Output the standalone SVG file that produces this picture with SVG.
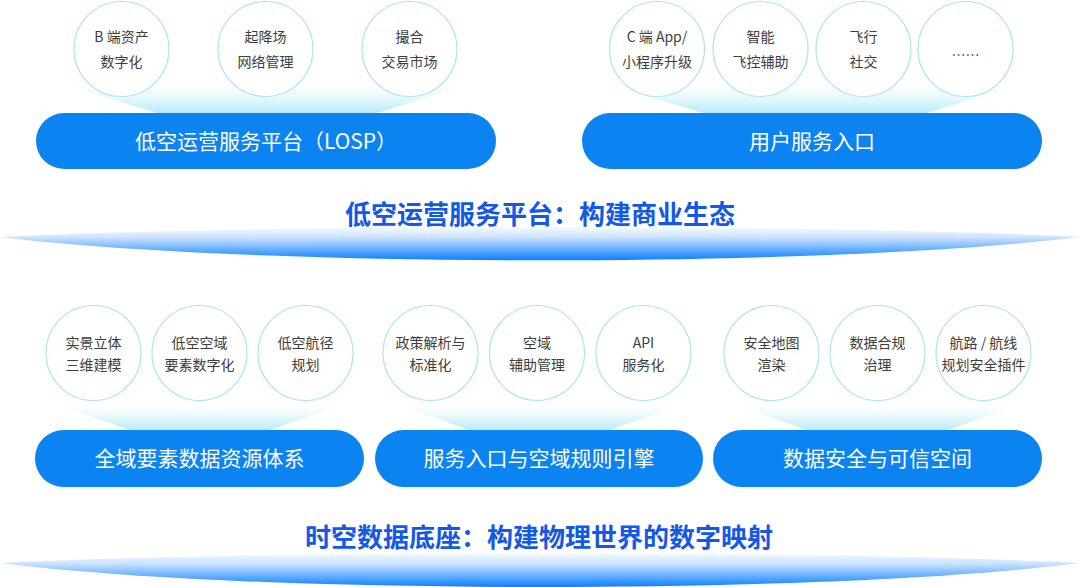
<svg xmlns="http://www.w3.org/2000/svg" width="1080" height="587" viewBox="0 0 1080 587">
<defs>
<linearGradient id="glow" x1="0" y1="0" x2="0" y2="1">
<stop offset="0" stop-color="#d9f5fc" stop-opacity="0"/>
<stop offset="1" stop-color="#b6ebfa" stop-opacity="1"/>
</linearGradient>
<linearGradient id="disc" x1="0" y1="0" x2="0" y2="1">
<stop offset="0" stop-color="#f4f9ff"/>
<stop offset="0.3" stop-color="#cde4ff"/>
<stop offset="1" stop-color="#0b80ff"/>
</linearGradient>
<style>
.c{fill:#fff;stroke:#a9e4f4;stroke-width:1.2}
.ct{font-family:"Noto Sans CJK SC","Noto Sans",sans-serif;font-size:14px;fill:#3d3d3d;text-anchor:middle}
.p{fill:#0b84f2}
.pt{font-family:"Noto Sans CJK SC","Noto Sans",sans-serif;font-size:21px;fill:#fff;text-anchor:middle}
.t{font-family:"Noto Sans CJK SC","Noto Sans",sans-serif;font-size:26px;font-weight:bold;fill:#1358e8;text-anchor:middle}
.g{fill:url(#glow)}
.d{fill:url(#disc)}
</style>
</defs>
<rect width="1080" height="587" fill="#fff"/>

<g id="discs">
<path class="d" d="M0,237 C250,224 830,224 1080,237 C830,268 250,268 0,237 Z"/>
<path class="d" d="M0,563 C250,550 830,550 1080,563 C830,595 250,595 0,563 Z"/>
</g>

<g id="connectors">
<polygon class="g" points="65,85 467,85 377,113 157,113"/>
<polygon class="g" points="607,85 1017,85 927,113 703,113"/>
<polygon class="g" points="57,405 341,405 270,430 130,430"/>
<polygon class="g" points="400,405 682,405 609,430 469,430"/>
<polygon class="g" points="736,405 1020,405 947,430 807,430"/>
</g>

<g id="c-b-asset"><circle class="c" cx="121.5" cy="49" r="47.5"/><text class="ct" x="121.5" y="42">B 端资产</text><text class="ct" x="121.5" y="67">数字化</text></g>
<g id="c-airport"><circle class="c" cx="265.5" cy="49" r="47.5"/><text class="ct" x="265.5" y="42">起降场</text><text class="ct" x="265.5" y="67">网络管理</text></g>
<g id="c-match"><circle class="c" cx="409.5" cy="49" r="47.5"/><text class="ct" x="409.5" y="42">撮合</text><text class="ct" x="409.5" y="67">交易市场</text></g>
<g id="c-capp"><circle class="c" cx="657" cy="49" r="47.5"/><text class="ct" x="657" y="42">C 端 App/</text><text class="ct" x="657" y="67">小程序升级</text></g>
<g id="c-smart"><circle class="c" cx="760.5" cy="49" r="47.5"/><text class="ct" x="760.5" y="42">智能</text><text class="ct" x="760.5" y="67">飞控辅助</text></g>
<g id="c-social"><circle class="c" cx="863.5" cy="49" r="47.5"/><text class="ct" x="863.5" y="42">飞行</text><text class="ct" x="863.5" y="67">社交</text></g>
<g id="c-more"><circle class="c" cx="965.5" cy="49" r="47.5"/><text class="ct" x="965.5" y="60">……</text></g>

<g id="p-losp"><rect class="p" x="36" y="113" width="460" height="56" rx="28"/><text class="pt" x="266" y="148.5">低空运营服务平台（LOSP）</text></g>
<g id="p-user"><rect class="p" x="582" y="113" width="460" height="56" rx="28"/><text class="pt" x="812" y="148.5">用户服务入口</text></g>

<g id="title-1"><text class="t" x="540" y="223.5">低空运营服务平台：构建商业生态</text></g>

<g id="c-3d"><circle class="c" cx="93.5" cy="353" r="47.5"/><text class="ct" x="93.5" y="348">实景立体</text><text class="ct" x="93.5" y="370">三维建模</text></g>
<g id="c-airspace"><circle class="c" cx="199.5" cy="353" r="47.5"/><text class="ct" x="199.5" y="348">低空空域</text><text class="ct" x="199.5" y="370">要素数字化</text></g>
<g id="c-route"><circle class="c" cx="305.5" cy="353" r="47.5"/><text class="ct" x="305.5" y="348">低空航径</text><text class="ct" x="305.5" y="370">规划</text></g>
<g id="c-policy"><circle class="c" cx="430.5" cy="353" r="47.5"/><text class="ct" x="430.5" y="348">政策解析与</text><text class="ct" x="430.5" y="370">标准化</text></g>
<g id="c-aux"><circle class="c" cx="537" cy="353" r="47.5"/><text class="ct" x="537" y="348">空域</text><text class="ct" x="537" y="370">辅助管理</text></g>
<g id="c-api"><circle class="c" cx="643.5" cy="353" r="47.5"/><text class="ct" x="643.5" y="348">API</text><text class="ct" x="643.5" y="370">服务化</text></g>
<g id="c-map"><circle class="c" cx="771.5" cy="353" r="47.5"/><text class="ct" x="771.5" y="348">安全地图</text><text class="ct" x="771.5" y="370">渲染</text></g>
<g id="c-comp"><circle class="c" cx="877.5" cy="353" r="47.5"/><text class="ct" x="877.5" y="348">数据合规</text><text class="ct" x="877.5" y="370">治理</text></g>
<g id="c-plugin"><circle class="c" cx="983.5" cy="353" r="47.5"/><text class="ct" x="983.5" y="348">航路 / 航线</text><text class="ct" x="983.5" y="370">规划安全插件</text></g>

<g id="p-data"><rect class="p" x="35" y="430" width="329" height="57" rx="28.5"/><text class="pt" x="199.5" y="466">全域要素数据资源体系</text></g>
<g id="p-rules"><rect class="p" x="375" y="430" width="328" height="57" rx="28.5"/><text class="pt" x="539" y="466">服务入口与空域规则引擎</text></g>
<g id="p-secure"><rect class="p" x="713" y="430" width="329" height="57" rx="28.5"/><text class="pt" x="877.5" y="466">数据安全与可信空间</text></g>

<g id="title-2"><text class="t" x="539" y="547">时空数据底座：构建物理世界的数字映射</text></g>
</svg>
